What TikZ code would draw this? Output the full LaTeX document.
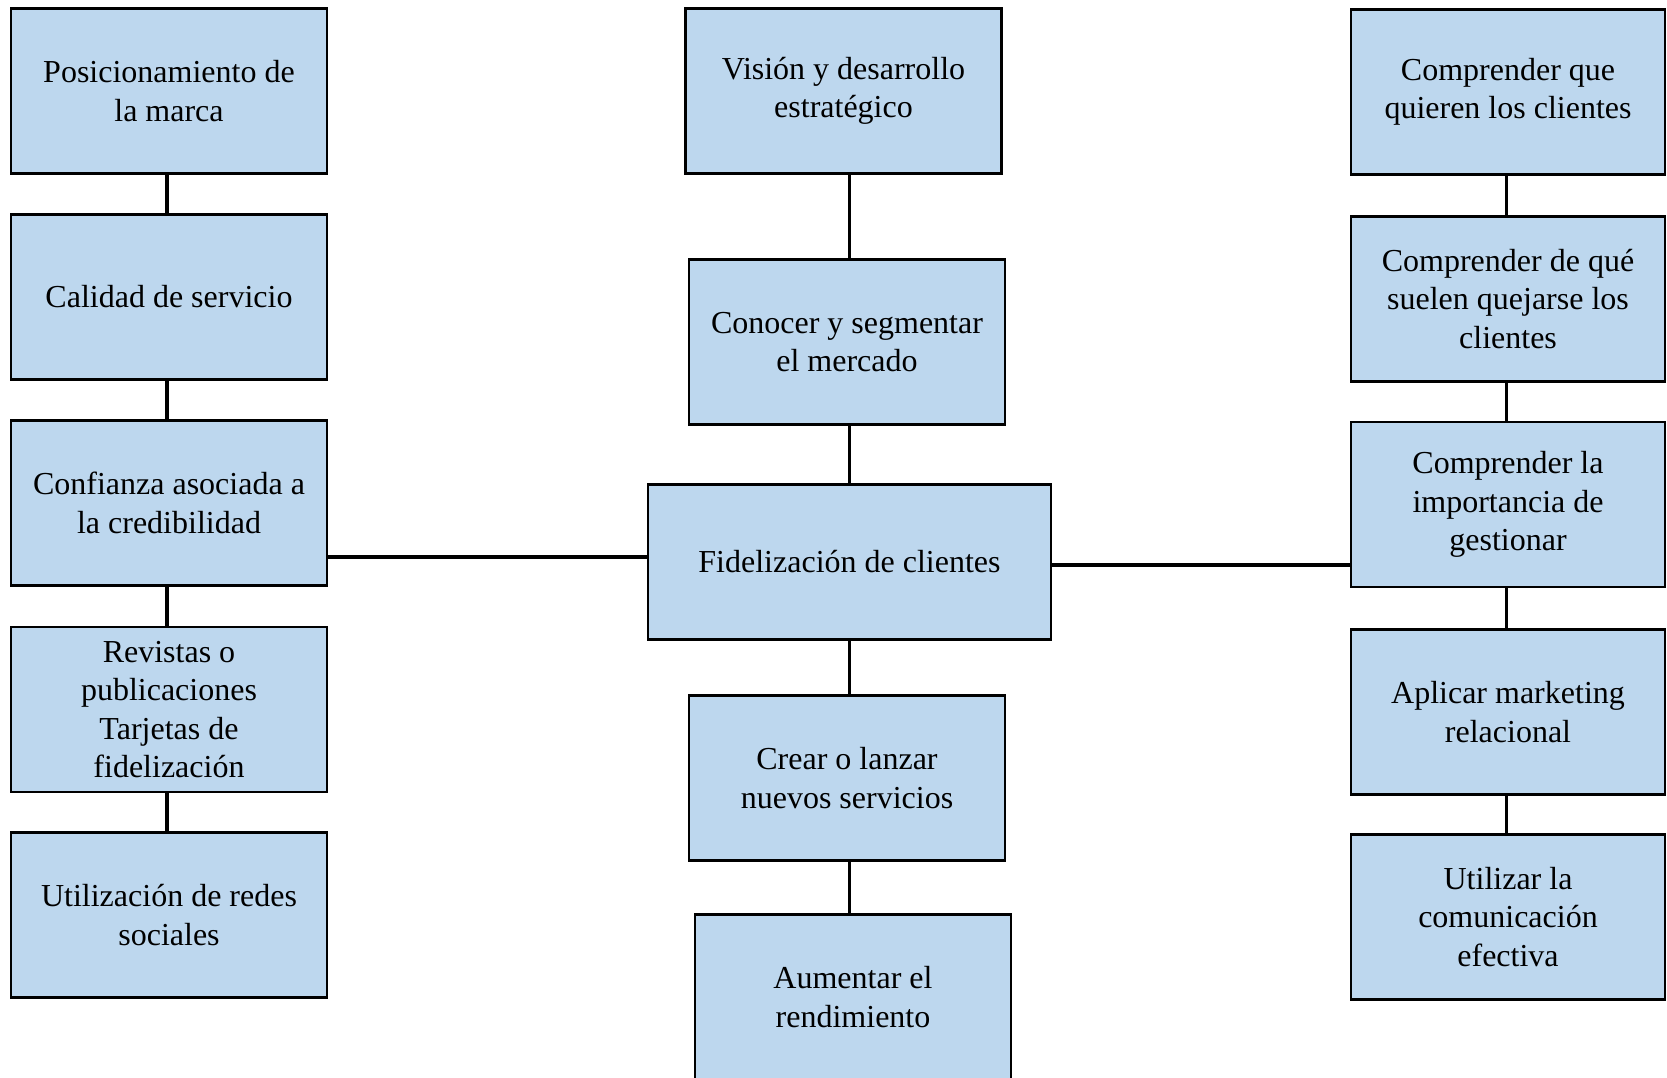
\documentclass[tikz,border=0pt]{standalone}
\usepackage{fontspec}
\setmainfont{Liberation Serif}
\definecolor{boxblue}{RGB}{189,215,238}
\begin{document}
\begin{tikzpicture}[x=1pt,y=1pt,
  box/.style={draw=black, line width=2.6pt, fill=boxblue, inner sep=0pt,
    minimum width=316pt, minimum height=165pt, align=center,
    font=\fontsize{32}{38.3}\selectfont},
  link/.style={line width=3.6pt, black}]
  \clip (0,0) rectangle (1667,-1078);
  \fill[white] (0,0) rectangle (1667,-1078);

  % left column
  \node[box] (L1) at (169,-91)   {Posicionamiento de\\la marca};
  \node[box] (L2) at (169,-297)  {Calidad de servicio};
  \node[box] (L3) at (169,-503)  {Confianza asociada a\\la credibilidad};
  \node[box] (L4) at (169,-709.6){Revistas o\\publicaciones\\Tarjetas de\\fidelización};
  \node[box] (L5) at (169,-915)  {Utilización de redes\\sociales};

  % centre column
  \node[box] (C1) at (843.5,-91) {Visión y desarrollo\\estratégico};
  \node[box] (C2) at (847,-342)  {Conocer y segmentar\\el mercado};
  \node[box, minimum width=403pt, minimum height=155pt] (F) at (849.5,-562) {Fidelización de clientes};
  \node[box] (C3) at (847,-778)  {Crear o lanzar\\nuevos servicios};
  \node[box] (C4) at (853,-997)  {Aumentar el\\rendimiento};

  % right column
  \node[box, minimum width=314pt] (R1) at (1508,-92)    {Comprender que\\quieren los clientes};
  \node[box, minimum width=314pt] (R2) at (1508,-299)   {Comprender de qué\\suelen quejarse los\\clientes};
  \node[box, minimum width=314pt] (R3) at (1508,-504.4) {Comprender la\\importancia de\\gestionar};
  \node[box, minimum width=314pt] (R4) at (1508,-712)   {Aplicar marketing\\relacional};
  \node[box, minimum width=314pt] (R5) at (1508,-917)   {Utilizar la\\comunicación\\efectiva};

  % vertical links, left column
  \draw[link] ([xshift=-2pt]L1.south) -- ([xshift=-2pt]L2.north);
  \draw[link] ([xshift=-2pt]L2.south) -- ([xshift=-2pt]L3.north);
  \draw[link] ([xshift=-2pt]L3.south) -- ([xshift=-2pt]L4.north);
  \draw[link] ([xshift=-2pt]L4.south) -- ([xshift=-2pt]L5.north);

  % vertical links, centre column
  \draw[link] (C1.south -| F.north) -- (C2.north -| F.north);
  \draw[link] (C2.south -| F.north) -- (F.north);
  \draw[link] (F.south) -- (C3.north -| F.south);
  \draw[link] (C3.south -| F.south) -- (C4.north -| F.south);

  % vertical links, right column
  \draw[link] ([xshift=-1.5pt]R1.south) -- ([xshift=-1.5pt]R2.north);
  \draw[link] ([xshift=-1.5pt]R2.south) -- ([xshift=-1.5pt]R3.north);
  \draw[link] ([xshift=-1.5pt]R3.south) -- ([xshift=-1.5pt]R4.north);
  \draw[link] ([xshift=-1.5pt]R4.south) -- ([xshift=-1.5pt]R5.north);

  % horizontal links to the centre
  \draw[link] ([yshift=5pt]F.west) -- ([yshift=5pt]F.west -| L3.east);
  \draw[link] ([yshift=-3pt]F.east) -- ([yshift=-3pt]F.east -| R3.west);
\end{tikzpicture}
\end{document}
